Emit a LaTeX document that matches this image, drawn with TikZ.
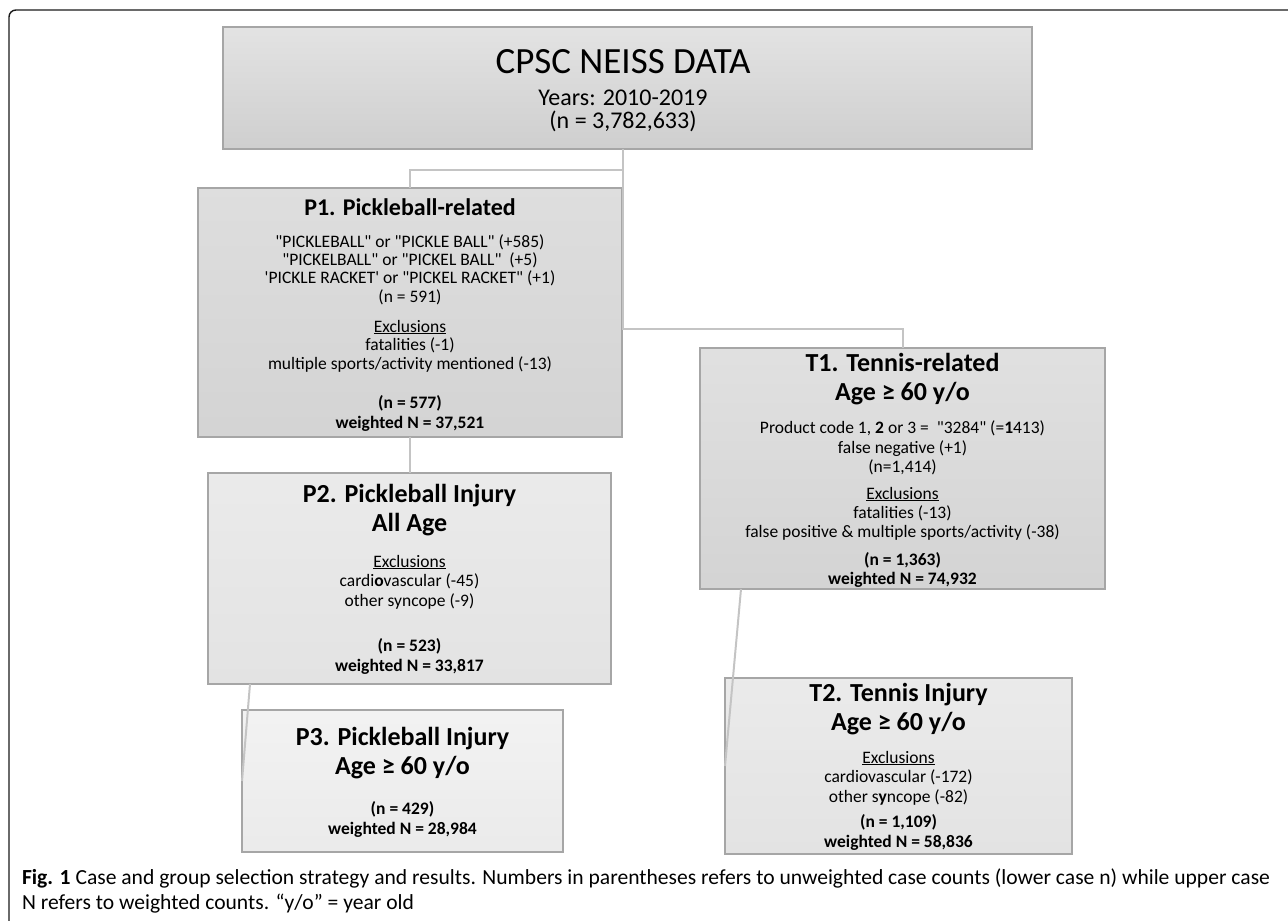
\documentclass[tikz,border=0pt]{standalone}
\usepackage{fontspec}
\usepackage{graphicx}
\setmainfont{Carlito}[Ligatures=TeXOff]
\newfontfamily\capfont{Carlito}
\definecolor{boxborder}{HTML}{A6A6A6}
\definecolor{conncol}{HTML}{C4C4C4}
\definecolor{frameblack}{HTML}{1A1A1A}
\definecolor{captioncol}{HTML}{222222}
\newcommand\fTitleTop{\fontsize{37}{44}\selectfont}
\newcommand\fTopBody{\fontsize{24}{29}\selectfont}
\newcommand\fHeadA{\fontsize{24}{29}\selectfont\bfseries}
\newcommand\fHead{\fontsize{26}{31}\selectfont\bfseries}
\newcommand\fBody{\fontsize{17.5}{21}\selectfont}
\newcommand\fBold{\fontsize{17.5}{21}\selectfont\bfseries}
\newsavebox\capboxa
\newsavebox\capboxb
\newlength\capw
\tikzset{
  box/.style={draw=boxborder, line width=1.3pt, inner sep=0pt, outer sep=0pt},
  conn/.style={draw=conncol, line width=2pt},
  frameline/.style={draw=frameblack, line width=1.4pt, rounded corners=7pt},
  ln/.style={anchor=base, inner sep=0pt, outer sep=0pt},
  ttop/.style={ln, font=\fTitleTop},
  btop/.style={ln, font=\fTopBody},
  hda/.style={ln, font=\fHeadA},
  hd/.style={ln, font=\fHead},
  bd/.style={ln, font=\fBody},
  bb/.style={ln, font=\fBold},
  captext/.style={anchor=base west, inner sep=0pt, outer sep=0pt, text=captioncol}
}
\begin{document}
\sbox\capboxa{\capfont\fontsize{21.5}{26}\selectfont\textbf{Fig. 1} Case and group selection strategy and results. Numbers in parentheses refers to unweighted case counts (lower case n) while upper case}%
\sbox\capboxb{\capfont\fontsize{21.5}{26}\selectfont N refers to weighted counts. “y/o” = year old}%
\setlength\capw{\wd\capboxa}%
\pgfmathsetmacro\capratio{1248/\capw}%
\begin{tikzpicture}[x=1pt,y=-1pt]
\useasboundingbox (0,0) rectangle (1288,921);
% outer frame
\draw[frameline] (9,921) -- (9,10) -- (1288,10);
% boxes
\node[box, top color=black!11, bottom color=black!19, minimum width=809pt, minimum height=122pt] (top) at (627.5,88) {};
\node[box, top color=black!13, bottom color=black!17, minimum width=424pt, minimum height=249pt] (p1) at (410,312.5) {};
\node[box, top color=black!8, bottom color=black!11, minimum width=403pt, minimum height=211pt] (p2) at (409.5,578.5) {};
\node[box, top color=black!5, bottom color=black!8, minimum width=321pt, minimum height=142pt] (p3) at (402.5,781) {};
\node[box, top color=black!12, bottom color=black!17, minimum width=405pt, minimum height=241pt] (t1) at (902.5,468.5) {};
\node[box, top color=black!8, bottom color=black!11, minimum width=347pt, minimum height=176pt] (t2) at (898.5,766) {};
% connectors
\draw[conn] ([xshift=-4.5pt]top.south) -- ++(0,21) -| (p1.north);
\draw[conn] ([xshift=-4.5pt]top.south) -- ++(0,180) -| (t1.north);
\draw[conn] (p1.south) -- (p1.south |- p2.north);
\draw[conn] ([xshift=42pt]p2.south west) -- (p3.west);
\draw[conn] ([xshift=41pt]t1.south west) -- (t2.west);
% top texts
\node[ttop] (ta) at (623,73.5) {CPSC NEISS DATA};
\node[btop] (tb) at (623,105) {Years: 2010-2019};
\node[btop] (tc) at (623,128.5) {(n = 3,782,633)};
% P1 texts
\node[hda] (p1a) at (410,215) {P1. Pickleball-related};
\node[bd] (p1b) at (410,247) {"PICKLEBALL" or "PICKLE BALL" (+585)};
\node[bd] (p1c) at (410,265) {"PICKELBALL" or "PICKEL BALL"\ \ (+5)};
\node[bd] (p1d) at (410,283) {'PICKLE RACKET' or "PICKEL RACKET" (+1)};
\node[bd] (p1e) at (410,302) {(n = 591)};
\node[bd] (p1f) at (410,332) {\underline{Exclusions}};
\node[bd] (p1g) at (410,350) {fatalities (-1)};
\node[bd] (p1h) at (410,369) {multiple sports/activity mentioned (-13)};
\node[bb] (p1i) at (410,408) {(n = 577)};
\node[bb] (p1j) at (410,428) {weighted N = 37,521};
% P2 texts
\node[hd] (p2a) at (409.5,502) {P2. Pickleball Injury};
\node[hd] (p2b) at (409.5,531) {All Age};
\node[bd] (p2c) at (409.5,567) {\underline{Exclusions}};
\node[bd] (p2d) at (409.5,586.5) {cardi\textbf{o}vascular (-45)};
\node[bd] (p2e) at (409.5,606) {other syncope (-9)};
\node[bb] (p2f) at (409.5,651.5) {(n = 523)};
\node[bb] (p2g) at (409.5,671) {weighted N = 33,817};
% P3 texts
\node[hd] (p3a) at (402.5,745) {P3. Pickleball Injury};
\node[hd] (p3b) at (402.5,774) {Age ≥ 60 y/o};
\node[bb] (p3c) at (402.5,814.5) {(n = 429)};
\node[bb] (p3d) at (402.5,834) {weighted N = 28,984};
% T1 texts
\node[hd] (t1a) at (902.5,371.5) {T1. Tennis-related};
\node[hd] (t1b) at (902.5,400.5) {Age ≥ 60 y/o};
\node[bd] (t1c) at (902.5,433) {Product code 1, \textbf{2} or 3 =\ \ "3284" (=\textbf{1}413)};
\node[bd] (t1d) at (902.5,453) {false negative (+1)};
\node[bd] (t1e) at (902.5,472.5) {(n=1,414)};
\node[bd] (t1f) at (902.5,499) {\underline{Exclusions}};
\node[bd] (t1g) at (902.5,518.5) {fatalities (-13)};
\node[bd] (t1h) at (902.5,537.5) {false positive \& multiple sports/activity (-38)};
\node[bb] (t1i) at (902.5,565) {(n = 1,363)};
\node[bb] (t1j) at (902.5,584.5) {weighted N = 74,932};
% T2 texts
\node[hd] (t2a) at (898.5,701.5) {T2. Tennis Injury};
\node[hd] (t2b) at (898.5,730) {Age ≥ 60 y/o};
\node[bd] (t2c) at (898.5,763) {\underline{Exclusions}};
\node[bd] (t2d) at (898.5,782.5) {cardiovascular (-172)};
\node[bd] (t2e) at (898.5,802) {other s\textbf{y}ncope (-82)};
\node[bb] (t2f) at (898.5,827.5) {(n = 1,109)};
\node[bb] (t2g) at (898.5,847) {weighted N = 58,836};
% caption
\node[captext] (capa) at (22,884) {\scalebox{\capratio}[1]{\usebox\capboxa}};
\node[captext] (capb) at (22,909) {\scalebox{\capratio}[1]{\usebox\capboxb}};
\end{tikzpicture}
\end{document}
